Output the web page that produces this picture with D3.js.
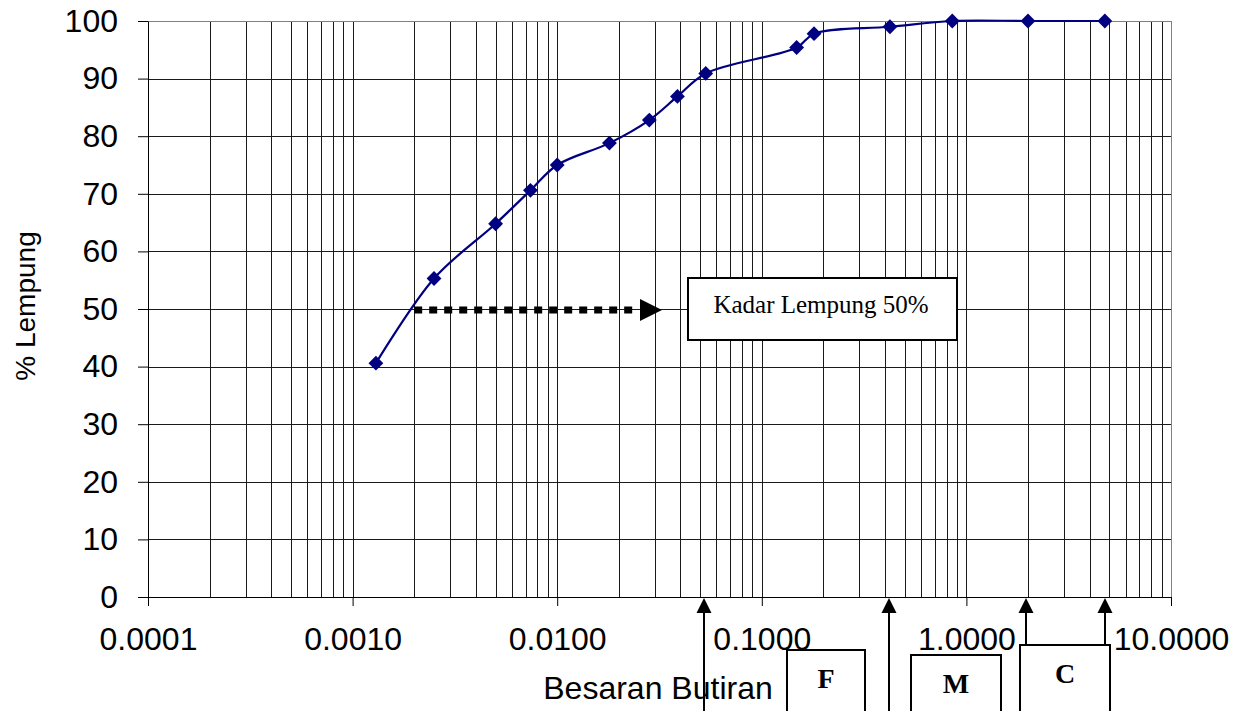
<!DOCTYPE html>
<html>
<head>
<meta charset="utf-8">
<script src="https://cdn.jsdelivr.net/npm/d3@7"></script>
<style>
  body { margin: 0; background: #fff; }
  svg { display: block; }
</style>
</head>
<body>
<div id="chart"></div>
<script>
// grain size (mm) and % passing
var grainSize = [0.0013, 0.0025, 0.0050, 0.0074, 0.0100, 0.0180, 0.0282, 0.0387, 0.0532, 0.148, 0.180, 0.423, 0.853, 2.0, 4.75];
var percentFiner = [40.6, 55.3, 64.8, 70.6, 75.0, 78.8, 82.8, 86.9, 90.9, 95.4, 97.8, 99.0, 100, 100, 100];

var xTickValues = [0.0001, 0.001, 0.01, 0.1, 1, 10];
var xTickLabels = ["0.0001", "0.0010", "0.0100", "0.1000", "1.0000", "10.0000"];
var yTickValues = [0, 10, 20, 30, 40, 50, 60, 70, 80, 90, 100];

// sand fraction boundaries pointed at under the axis
var boundarySizes = [0.052, 0.42, 1.95, 4.75];
var fractionLabels = ["F", "M", "C"];

var w = 1251, h = 711;
var margin = {left: 148, right: 80, top: 21, bottom: 114};

var svg = d3.select("#chart").append("svg")
  .attr("width", w)
  .attr("height", h);

var x = d3.scaleLog().domain([0.0001, 10]).range([margin.left, w - margin.right]);
var y = d3.scaleLinear().domain([0, 100]).range([h - margin.bottom, margin.top]);

var sans = "'Liberation Sans', Arial, sans-serif";
var serif = "'Liberation Serif', 'Times New Roman', serif";

// grid
var grid = svg.append("g").attr("shape-rendering", "crispEdges");
grid.selectAll("line.v")
  .data(x.ticks())
  .enter().append("line")
  .attr("class", "v")
  .attr("x1", function(d){ return Math.round(x(d)) + 0.5; })
  .attr("x2", function(d){ return Math.round(x(d)) + 0.5; })
  .attr("y1", y(100))
  .attr("y2", y(0))
  .attr("stroke", "#1a1a1a")
  .attr("stroke-width", 1);

grid.selectAll("line.h")
  .data(yTickValues)
  .enter().append("line")
  .attr("class", "h")
  .attr("x1", x(0.0001))
  .attr("x2", x(10))
  .attr("y1", function(d){ return Math.round(y(d)) + 0.5; })
  .attr("y2", function(d){ return Math.round(y(d)) + 0.5; })
  .attr("stroke", function(d){ return d == 100 ? "#808080" : "#1a1a1a"; })
  .attr("stroke-width", 1);

// right border
grid.append("line")
  .attr("x1", Math.round(x(10)) + 0.5).attr("x2", Math.round(x(10)) + 0.5)
  .attr("y1", y(100)).attr("y2", y(0))
  .attr("stroke", "#808080");

// axes
var yAxis = d3.axisLeft(y)
  .tickValues(yTickValues)
  .tickSize(10)
  .tickSizeOuter(0)
  .tickPadding(20);

var gy = svg.append("g")
  .attr("transform", "translate(" + x(0.0001) + ",0)")
  .call(yAxis);

var xAxis = d3.axisBottom(x)
  .tickValues(xTickValues)
  .tickFormat(function(d, i){ return xTickLabels[i]; })
  .tickSize(9)
  .tickSizeOuter(0)
  .tickPadding(21);

var gx = svg.append("g")
  .attr("transform", "translate(0," + y(0) + ")")
  .call(xAxis);

[gx, gy].forEach(function(g){
  g.selectAll("text")
    .attr("font-family", sans)
    .attr("font-size", 32)
    .attr("fill", "#000");
  g.selectAll("line").attr("stroke", "#000");
  g.select(".domain").attr("stroke", "#000");
});

// axis titles
svg.append("text")
  .attr("x", 658)
  .attr("y", 699)
  .attr("text-anchor", "middle")
  .attr("font-family", sans)
  .attr("font-size", 32)
  .text("Besaran Butiran");

svg.append("text")
  .attr("transform", "translate(35,306) rotate(-90)")
  .attr("text-anchor", "middle")
  .attr("font-family", sans)
  .attr("font-size", 28)
  .text("% Lempung");

// curve
var line = d3.line()
  .x(function(d){ return x(d[0]); })
  .y(function(d){ return y(d[1]); })
  .curve(d3.curveCatmullRom.alpha(0.5));

var pts = grainSize.map(function(g, i){ return [g, percentFiner[i]]; });

svg.append("path")
  .datum(pts)
  .attr("d", line)
  .attr("fill", "none")
  .attr("stroke", "#000080")
  .attr("stroke-width", 2.2);

svg.selectAll("path.marker")
  .data(pts)
  .enter().append("path")
  .attr("class", "marker")
  .attr("d", d3.symbol(d3.symbolSquare, 110))
  .attr("transform", function(d){ return "translate(" + x(d[0]) + "," + y(d[1]) + ") rotate(45)"; })
  .attr("fill", "#000080");

// dotted arrow at 50%
var y50 = y(50) + 1;
svg.append("line")
  .attr("x1", x(0.002)).attr("x2", 633)
  .attr("y1", y50).attr("y2", y50)
  .attr("stroke", "#000")
  .attr("stroke-width", 7)
  .attr("stroke-dasharray", "8,7");

svg.append("path")
  .attr("d", "M640," + (y50 - 11) + "L662," + y50 + "L640," + (y50 + 11) + "Z")
  .attr("fill", "#000");

svg.append("rect")
  .attr("x", 688).attr("y", 278)
  .attr("width", 269).attr("height", 62)
  .attr("fill", "#fff")
  .attr("stroke", "#000")
  .attr("stroke-width", 2);

svg.append("text")
  .attr("x", 821).attr("y", 313)
  .attr("text-anchor", "middle")
  .attr("font-family", serif)
  .attr("font-size", 25)
  .text("Kadar Lempung 50%");

// fraction boxes under the axis
var boxes = [
  {x: 787, top: 650, w: 78, label: fractionLabels[0], base: 688},
  {x: 911, top: 655, w: 90, label: fractionLabels[1], base: 693},
  {x: 1020, top: 645, w: 90, label: fractionLabels[2], base: 683}
];

// arrows: first two reach the bottom edge, last two stand on the C box
var arrowBottoms = [h + 5, h + 5, 645, 645];
var arrowTip = y(0) + 1;

boundarySizes.forEach(function(s, i){
  var ax = Math.round(x(s));
  svg.append("line")
    .attr("x1", ax).attr("x2", ax)
    .attr("y1", arrowTip + 12).attr("y2", arrowBottoms[i])
    .attr("stroke", "#000")
    .attr("stroke-width", 2);
  svg.append("path")
    .attr("d", "M" + ax + "," + arrowTip + "L" + (ax + 7.5) + "," + (arrowTip + 15) + "L" + (ax - 7.5) + "," + (arrowTip + 15) + "Z")
    .attr("fill", "#000");
});

boxes.forEach(function(b){
  svg.append("rect")
    .attr("x", b.x).attr("y", b.top)
    .attr("width", b.w).attr("height", 100)
    .attr("fill", "#fff")
    .attr("stroke", "#000")
    .attr("stroke-width", 2);
  svg.append("text")
    .attr("x", b.x + b.w / 2)
    .attr("y", b.base)
    .attr("text-anchor", "middle")
    .attr("font-family", serif)
    .attr("font-weight", "bold")
    .attr("font-size", 28)
    .text(b.label);
});
</script>
</body>
</html>
